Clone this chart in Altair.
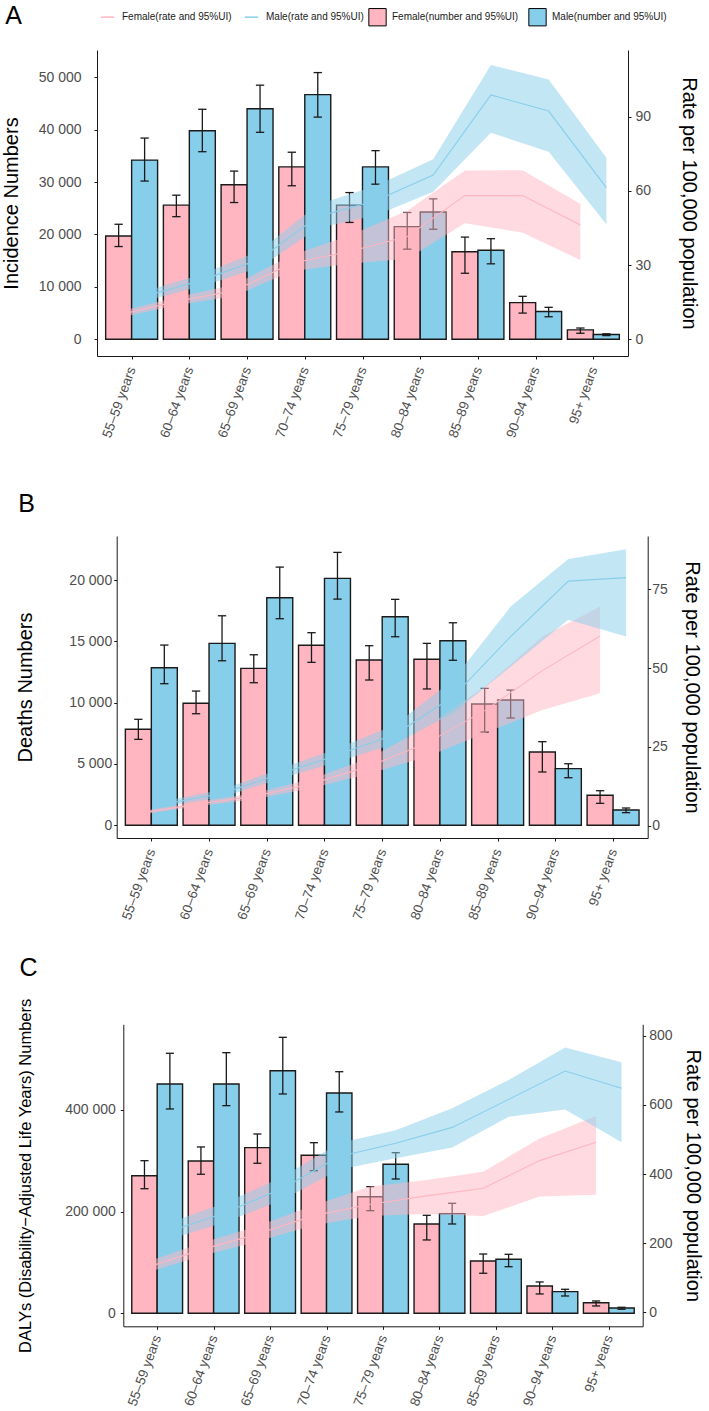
import json

import altair as alt
import pandas as pd

# ---------------------------------------------------------------- data
AGES = ["55–59 years", "60–64 years", "65–69 years", "70–74 years", "75–79 years",
        "80–84 years", "85–89 years", "90–94 years", "95+ years"]

# A: incidence (numbers and 95% UI)
inc_f = [19700, 25600, 29500, 32900, 25600, 21500, 16700, 7000, 1800]
inc_f_lo = [17700, 23400, 26100, 29300, 22300, 17200, 12600, 5000, 1150]
inc_f_hi = [21950, 27500, 32100, 35700, 28000, 24200, 19500, 8200, 2150]
inc_m = [34200, 39800, 44000, 46700, 32900, 24300, 17000, 5300, 900]
inc_m_lo = [30200, 35800, 39500, 42400, 29600, 21000, 14400, 4300, 700]
inc_m_hi = [38400, 43900, 48500, 50900, 36000, 26800, 19200, 6100, 1050]
# A: incidence rate per 100,000
inc_rf = [9.8, 15.3, 19.6, 30.7, 35.5, 41.5, 58.1, 58.1, 46.2]
inc_rf_lo = [8.6, 13.7, 17.4, 27.5, 30.5, 32.5, 46.9, 43.1, 32.0]
inc_rf_hi = [11.1, 17.0, 22.0, 34.0, 42.0, 52.0, 68.2, 68.4, 54.7]
inc_rm = [17.4, 23.9, 32.4, 49.6, 56.0, 66.4, 98.8, 92.3, 61.3]
inc_rm_lo = [15.5, 21.5, 29.0, 45.0, 50.0, 59.7, 83.5, 75.8, 46.5]
inc_rm_hi = [19.3, 26.4, 35.8, 54.5, 62.0, 72.8, 110.9, 105.1, 73.4]

# B: deaths
dth_f = [7830, 9950, 12800, 14680, 13480, 13540, 9890, 5980, 2450]
dth_f_lo = [7010, 9100, 11630, 13290, 11850, 11120, 7610, 4350, 1790]
dth_f_hi = [8645, 10950, 13910, 15710, 14650, 14840, 11170, 6820, 2820]
dth_m = [12850, 14840, 18560, 20140, 17010, 15050, 10220, 4620, 1250]
dth_m_lo = [11550, 13420, 16850, 18450, 15380, 13460, 8750, 3880, 1030]
dth_m_hi = [14700, 17090, 21060, 22260, 18430, 16520, 11030, 5020, 1410]
dth_rf = [3.9, 6.8, 9.3, 13.3, 18.9, 26.2, 36.5, 49.2, 60.2]
dth_rf_lo = [3.4, 6.1, 8.3, 11.9, 16.5, 21.9, 29.3, 36.7, 42.0]
dth_rf_hi = [4.4, 7.5, 10.3, 14.8, 21.5, 31.4, 44.1, 60.0, 69.5]
dth_rm = [6.9, 10.2, 16.4, 22.4, 29.0, 40.9, 60.0, 77.6, 78.7]
dth_rm_lo = [6.0, 9.0, 14.8, 20.3, 26.0, 35.7, 50.4, 65.3, 60.0]
dth_rm_hi = [7.8, 11.4, 18.0, 24.5, 32.0, 46.2, 69.5, 84.6, 87.7]

# C: DALYs
daly_f = [270600, 299500, 325700, 310700, 229300, 175600, 102900, 53700, 20800]
daly_f_lo = [245000, 273400, 295000, 280400, 201800, 144200, 78700, 38000, 14400]
daly_f_hi = [300100, 327100, 352600, 335500, 249000, 192700, 116600, 61600, 24200]
daly_m = [450900, 450900, 477100, 433300, 293000, 195900, 106200, 42500, 10400]
daly_m_lo = [401800, 408300, 431300, 395900, 264100, 175600, 91600, 34000, 7900]
daly_m_hi = [511300, 512500, 542700, 475100, 315800, 216300, 116000, 47200, 11800]
daly_rf = [128, 181, 227, 280, 313, 337, 359, 439, 492]
daly_rf_lo = [113, 163, 205, 252, 279, 285, 279, 335, 340]
daly_rf_hi = [144, 200, 250, 310, 364, 383, 407, 503, 568]
daly_rm = [235, 290, 359, 451, 489, 535, 616, 698, 648]
daly_rm_lo = [212, 262, 326, 413, 446, 477, 566, 587, 492]
daly_rm_hi = [260, 318, 392, 490, 527, 590, 672, 766, 723]

LINE_LABELS = ["Female(rate and 95%UI)", "Male(rate and 95%UI)"]
BAR_LABELS = ["Female(number and 95%UI)", "Male(number and 95%UI)"]

# ---------------------------------------------------------------- style
PINK = "#FFB6C1"
BLUE = "#87CEEB"
INK = "#1a1a1a"
GREY = "#4D4D4D"
SANS = "Liberation Sans, Arial, Helvetica, sans-serif"
NARROW = "Liberation Sans Narrow, Arial Narrow, Liberation Sans, sans-serif"

GROUP = 0.45   # half width of a dodged pair of bars (category units)
CAP = 0.072    # half width of an error-bar cap

# every panel shares one frame so the stacked layout stays regular;
# each panel's own plot box is placed inside it through its scale ranges
FRAME_LEFT = 97     # room kept left of the frame for the y axis
FRAME_TOP = 50      # room kept above the frame for letter and legends
FRAME_H = 323
FRAME_BELOW = 104   # room kept below the frame for the rotated labels


def number_table(f, f_lo, f_hi, m, m_lo, m_hi):
    rows = []
    for i, age in enumerate(AGES):
        for lab, v, lo, hi, x0, x1 in (
            (BAR_LABELS[0], f[i], f_lo[i], f_hi[i], i - GROUP, i),
            (BAR_LABELS[1], m[i], m_lo[i], m_hi[i], i, i + GROUP),
        ):
            c = (x0 + x1) / 2
            rows.append(dict(age=age, series=lab, value=v, lo=lo, hi=hi,
                             x0=x0, x1=x1, xc=c, c0=c - CAP, c1=c + CAP))
    return pd.DataFrame(rows)


def rate_table(f, f_lo, f_hi, m, m_lo, m_hi):
    rows = []
    for i, age in enumerate(AGES):
        rows.append(dict(age=age, series=LINE_LABELS[0], rate=f[i], lo=f_lo[i],
                         hi=f_hi[i], xc=i - GROUP / 2))
        rows.append(dict(age=age, series=LINE_LABELS[1], rate=m[i], lo=m_lo[i],
                         hi=m_hi[i], xc=i + GROUP / 2))
    return pd.DataFrame(rows)


def panel(p, nums, rates):
    x0, x1 = p["x_range"]
    y_top, y_bot = p["y_range"]
    xs = alt.Scale(domain=[-0.6, 8.6], range=[x0, x1], nice=False, zero=False)
    ys_n = alt.Scale(domain=p["num_domain"], range=[y_bot, y_top], nice=False, zero=False)
    ys_r = alt.Scale(domain=p["rate_domain"], range=[y_bot, y_top], nice=False, zero=False)

    x_axis = alt.Axis(
        values=list(range(len(AGES))), offset=y_bot - FRAME_H,
        labelExpr=json.dumps(AGES, ensure_ascii=False) + "[datum.value]",
        labelAngle=-70, labelAlign="right", labelBaseline="middle",
        labelPadding=p["xlab_pad"], labelFontSize=p["xlab_size"],
        labelColor=GREY, labelFont=SANS, labelOverlap=False, labelFlush=False,
        labelBound=False, tickSize=3, tickColor=INK, tickWidth=1,
        domainColor=INK, domainWidth=1, grid=False, title=None,
    )
    num_axis = alt.Axis(
        orient="left", values=p["num_ticks"], offset=-x0,
        labelExpr="datum.value == 0 ? '0' : format(datum.value / 1000, 'd') + ' 000'",
        labelFontSize=14, labelColor=GREY, labelFont=SANS, labelPadding=p["lpad_l"],
        tickSize=3, tickColor=INK, domainColor=INK, domainWidth=1, grid=False,
        title=p["num_title"], titleFont=SANS, titleFontSize=p["num_title_size"],
        titleFontWeight="normal", titleColor="black", titleAngle=270,
        titleBaseline="bottom", minExtent=20, maxExtent=20,
        titlePadding=p["title_off_l"] - 20,
    )
    rate_axis = alt.Axis(
        orient="right", values=p["rate_ticks"],
        labelFontSize=14, labelColor=GREY, labelFont=SANS, labelPadding=p["lpad_r"],
        tickSize=3, tickColor=INK, domainColor=INK, domainWidth=1, grid=False,
        title="Rate per 100,000 population", titleFont=SANS, titleFontSize=20,
        titleFontWeight="normal", titleColor="black", titleAngle=90,
        titleBaseline="bottom", minExtent=20, maxExtent=20,
        titlePadding=p["title_off_r"] - 20,
    )

    bar_legend = alt.Legend(
        orient="none", legendX=p["bar_leg_x"], legendY=p["leg_y"] - 8.7,
        direction="horizontal", title=None, padding=0,
        symbolType="square", symbolSize=300, symbolStrokeColor="black",
        symbolStrokeWidth=1, symbolOpacity=1,
        labelFont=NARROW, labelFontSize=10, labelColor=INK, labelOffset=5,
        columnPadding=7,
    )
    line_legend = alt.Legend(
        orient="none", legendX=p["line_leg_x"], legendY=p["leg_y"] - 6.6,
        direction="horizontal", title=None, padding=0,
        symbolType="stroke", symbolSize=177, symbolStrokeWidth=1.5, symbolOpacity=1,
        labelFont=NARROW, labelFontSize=10, labelColor=INK, labelOffset=7,
        columnPadding=9,
    )

    def xq(field):
        return alt.X(field, scale=xs, axis=x_axis)

    def yn(field):
        return alt.Y(field, scale=ys_n, axis=num_axis, stack=None)

    def yr(field):
        return alt.Y(field, scale=ys_r, axis=rate_axis, stack=None)

    base_n = alt.Chart(nums)
    bars = base_n.mark_bar(stroke=INK, strokeWidth=1.4).encode(
        x=xq("x0:Q"), x2="x1:Q",
        y=yn("value:Q"), y2=alt.datum(0),
        fill=alt.Fill("series:N", scale=alt.Scale(domain=BAR_LABELS, range=[PINK, BLUE]),
                      legend=bar_legend),
    )
    whisker = base_n.mark_rule(color=INK, strokeWidth=1.3).encode(
        x=xq("xc:Q"), y=yn("lo:Q"), y2="hi:Q",
    )
    cap_hi = base_n.mark_rule(color=INK, strokeWidth=1.3).encode(
        x=xq("c0:Q"), x2="c1:Q", y=yn("hi:Q"),
    )
    cap_lo = base_n.mark_rule(color=INK, strokeWidth=1.3).encode(
        x=xq("c0:Q"), x2="c1:Q", y=yn("lo:Q"),
    )

    one = pd.DataFrame({"k": [0]})
    letter = alt.Chart(one).mark_text(
        text=p["letter"], fontSize=25, font=SANS, color="black",
        align="center", baseline="middle",
    ).encode(x=alt.value(p["letter_x"]), y=alt.value(p["letter_y"]))
    # blank anchors that fix the frame's outer extent in the stacked layout
    corner = alt.Chart(one).mark_text(text=" ", fontSize=1, align="left", baseline="top").encode(
        x=alt.value(-FRAME_LEFT), y=alt.value(-FRAME_TOP))
    floor_ = alt.Chart(one).mark_text(text=" ", fontSize=1, align="left", baseline="bottom").encode(
        x=alt.value(0), y=alt.value(FRAME_H + FRAME_BELOW))

    color_scale = alt.Scale(domain=LINE_LABELS, range=[PINK, BLUE])
    base_r = alt.Chart(rates)
    band = base_r.mark_area(opacity=0.5).encode(
        x=xq("xc:Q"), y=yr("lo:Q"), y2="hi:Q",
        color=alt.Color("series:N", scale=color_scale, legend=line_legend),
    )
    line = base_r.mark_line(strokeWidth=1.1).encode(
        x=xq("xc:Q"), y=yr("rate:Q"),
        color=alt.Color("series:N", scale=color_scale, legend=line_legend),
    )

    counts = alt.layer(bars, whisker, cap_hi, cap_lo, letter, corner, floor_)
    rate_layer = alt.layer(band, line)
    return alt.layer(counts, rate_layer).resolve_scale(y="independent").properties(
        width=x1, height=FRAME_H)


PANEL_A = dict(
    letter="A", x_range=[0, 531], y_range=[0, 306],
    num_title="Incidence Numbers", num_title_size=20,
    num_domain=[-3190, 55210], num_ticks=[0, 10000, 20000, 30000, 40000, 50000],
    rate_domain=[-6.8, 117.0], rate_ticks=[0, 30, 60, 90],
    lpad_l=13, lpad_r=4, title_off_l=76, title_off_r=50,
    xlab_pad=8, xlab_size=13.5,
    letter_x=-83.5, letter_y=-34.5, leg_y=-34, line_leg_x=3, bar_leg_x=271,
)
PANEL_B = dict(
    letter="B", x_range=[19.7, 550.7], y_range=[9, 311],
    num_title="Deaths Numbers", num_title_size=20,
    num_domain=[-1036, 23597], num_ticks=[0, 5000, 10000, 15000, 20000],
    rate_domain=[-3.9, 91.9], rate_ticks=[0, 25, 50, 75],
    lpad_l=2, lpad_r=1, title_off_l=81, title_off_r=34,
    xlab_pad=8, xlab_size=13.5,
    letter_x=-70.5, letter_y=-23.5, leg_y=-20.3, line_leg_x=9.7, bar_leg_x=275.7,
)
PANEL_C = dict(
    letter="C", x_range=[26.3, 545.7], y_range=[20.3, 322.3],
    num_title="DALYs (Disability−Adjusted Life Years) Numbers", num_title_size=16.5,
    num_domain=[-25600, 568300], num_ticks=[0, 200000, 400000],
    rate_domain=[-39.9, 833], rate_ticks=[0, 200, 400, 600, 800],
    lpad_l=5, lpad_r=3, title_off_l=90, title_off_r=40,
    xlab_pad=6, xlab_size=13.5,
    letter_x=-68.5, letter_y=-36.5, leg_y=-24.5, line_leg_x=16.3, bar_leg_x=282.3,
)

pa = panel(PANEL_A,
           number_table(inc_f, inc_f_lo, inc_f_hi, inc_m, inc_m_lo, inc_m_hi),
           rate_table(inc_rf, inc_rf_lo, inc_rf_hi, inc_rm, inc_rm_lo, inc_rm_hi))
pb = panel(PANEL_B,
           number_table(dth_f, dth_f_lo, dth_f_hi, dth_m, dth_m_lo, dth_m_hi),
           rate_table(dth_rf, dth_rf_lo, dth_rf_hi, dth_rm, dth_rm_lo, dth_rm_hi))
pc = panel(PANEL_C,
           number_table(daly_f, daly_f_lo, daly_f_hi, daly_m, daly_m_lo, daly_m_hi),
           rate_table(daly_rf, daly_rf_lo, daly_rf_hi, daly_rm, daly_rm_lo, daly_rm_hi))

chart = (
    alt.vconcat(pa, pb, pc, spacing=0)
    .properties(padding={"left": 0, "top": 0, "right": 4, "bottom": 0})
    .configure(font=SANS)
    .configure_view(stroke=None)
)

chart.save("out.html", embed_options={"renderer": "svg", "actions": False})
